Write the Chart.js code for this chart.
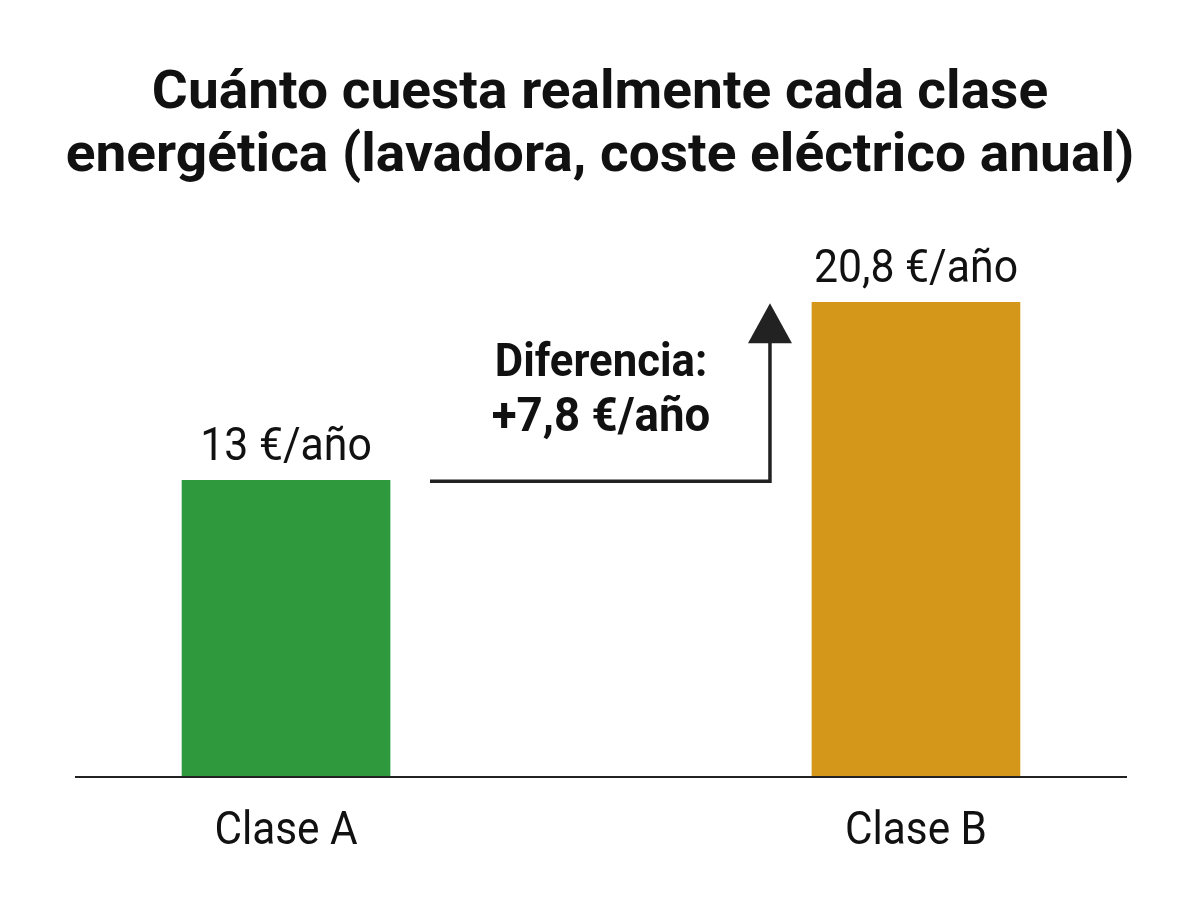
<!DOCTYPE html>
<html lang="es">
<head>
<meta charset="utf-8">
<title>Coste eléctrico anual por clase energética</title>
<script src="https://cdn.jsdelivr.net/npm/chart.js@4.4.1/dist/chart.umd.min.js"></script>
<style>
    html, body { margin: 0; padding: 0; background: #ffffff; }
    #wrap { position: relative; width: 1200px; height: 900px; }
</style>
</head>
<body>
<div id="wrap"><canvas id="chart"></canvas></div>
<script>
// Chart data
const titleLines = ['Cuánto cuesta realmente cada clase', 'energética (lavadora, coste eléctrico anual)'];
const categories = ['Clase A', 'Clase B'];
const annualCost = [13, 20.8];
const costLabels = ['13 €/año', '20,8 €/año'];
const diffLabels = ['Diferencia:', '+7,8 €/año'];
const barColors = ['#2e9a3d', '#d4971a'];

const TEXT_COLOR = '#111111';
const LINE_COLOR = '#222222';

// Roboto Condensed is not installed, so labels are squeezed horizontally (sx)
function drawText(ctx, text, x, y, font, sx) {
    ctx.save();
    ctx.font = font;
    ctx.fillStyle = TEXT_COLOR;
    ctx.textAlign = 'center';
    ctx.textBaseline = 'alphabetic';
    ctx.translate(x, y);
    ctx.scale(sx, 1);
    ctx.fillText(text, 0, 0);
    ctx.restore();
}

// Title, labels, baseline and the difference arrow
const annotationPlugin = {
    id: 'annotations',
    afterDatasetsDraw(chart) {
        const ctx = chart.ctx;
        const area = chart.chartArea;
        const xScale = chart.scales.x;
        const yScale = chart.scales.y;
        const bars = chart.getDatasetMeta(0).data;

        // Title (two lines)
        const cx = chart.width / 2;
        drawText(ctx, titleLines[0], cx, 108, 'bold 54px Roboto', 1.02);
        drawText(ctx, titleLines[1], cx, 171, 'bold 54px Roboto', 1.02);

        // Baseline
        const y0 = yScale.getPixelForValue(0);
        ctx.save();
        ctx.strokeStyle = LINE_COLOR;
        ctx.lineWidth = 2;
        ctx.beginPath();
        ctx.moveTo(area.left, y0);
        ctx.lineTo(area.right, y0);
        ctx.stroke();
        ctx.restore();

        // Value labels above bars and category labels below
        bars.forEach((bar, i) => {
            drawText(ctx, costLabels[i], bar.x, bar.y - 20, '47px Roboto', 0.91);
            drawText(ctx, categories[i], xScale.getPixelForValue(i), y0 + 67, '47px Roboto', 0.9);
        });

        // Elbow arrow from the top of A to the top of B
        const a = bars[0];
        const b = bars[1];
        const startX = a.x + a.width / 2 + 40;
        const elbowX = b.x - b.width / 2 - 42;
        const lineY = yScale.getPixelForValue(annualCost[0]) + 1;
        const tipY = yScale.getPixelForValue(annualCost[1]) + 1;
        const headLen = 40;
        const headHalf = 22;

        ctx.save();
        ctx.strokeStyle = LINE_COLOR;
        ctx.fillStyle = LINE_COLOR;
        ctx.lineWidth = 3.5;
        ctx.lineJoin = 'miter';
        ctx.beginPath();
        ctx.moveTo(startX, lineY);
        ctx.lineTo(elbowX, lineY);
        ctx.lineTo(elbowX, tipY + headLen - 2);
        ctx.stroke();
        ctx.beginPath();
        ctx.moveTo(elbowX, tipY);
        ctx.lineTo(elbowX - headHalf, tipY + headLen);
        ctx.lineTo(elbowX + headHalf, tipY + headLen);
        ctx.closePath();
        ctx.fill();
        ctx.restore();

        // Difference text between the bars
        const midX = (a.x + b.x) / 2;
        drawText(ctx, diffLabels[0], midX, 376, 'bold 47px Roboto', 0.93);
        drawText(ctx, diffLabels[1], midX, 431, 'bold 48px Roboto', 0.95);
    }
};

const ctx = document.getElementById('chart');

new Chart(ctx, {
    type: 'bar',
    data: {
        datasets: [{
            data: annualCost.map((v, i) => ({ x: i, y: v })),
            backgroundColor: barColors,
            borderWidth: 0,
            barThickness: 208
        }]
    },
    plugins: [annotationPlugin],
    options: {
        responsive: true,
        maintainAspectRatio: false,
        animation: false,
        layout: {
            padding: { top: 227, bottom: 123, left: 75, right: 73 }
        },
        plugins: {
            legend: { display: false },
            title: { display: false },
            tooltip: { enabled: false }
        },
        scales: {
            x: {
                type: 'linear',
                display: false,
                offset: false,
                min: -0.335,
                max: 1.335
            },
            y: {
                display: false,
                min: 0,
                max: 24.1
            }
        }
    }
});
</script>
</body>
</html>
